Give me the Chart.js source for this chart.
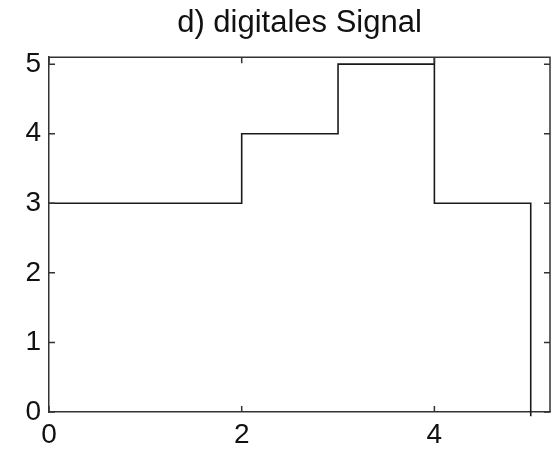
<!DOCTYPE html>
<html>
<head>
<meta charset="utf-8">
<script src="https://cdn.jsdelivr.net/npm/chart.js@4"></script>
<style>
  body { margin: 0; background: #fff; }
  canvas { display: block; }
</style>
</head>
<body>
<canvas id="signalChart" width="556" height="450"></canvas>
<script>
// Digital signal (stairs)
var stepX = [0, 2, 3, 4, 4, 5];
var stepY = [3, 4, 5, 5.1, 3, -0.06];
var xTicks = [0, 2, 4];
var yTicks = [0, 1, 2, 3, 4, 5];
var titleText = "d) digitales Signal";

var axisColor = "#333333";

// MATLAB style box with inward ticks
const boxTicks = {
    id: 'boxTicks',
    afterDatasetsDraw(chart) {
        const ctx = chart.ctx;
        const a = chart.chartArea;
        const xs = chart.scales.x;
        const ys = chart.scales.y;
        const len = 6;
        ctx.save();
        ctx.strokeStyle = axisColor;
        ctx.lineWidth = 1.5;
        ctx.beginPath();
        ctx.moveTo(a.left, a.top);
        ctx.lineTo(a.right, a.top);
        ctx.lineTo(a.right, a.bottom);
        xTicks.forEach(v => {
            const px = xs.getPixelForValue(v);
            ctx.moveTo(px, a.bottom);
            ctx.lineTo(px, a.bottom - len);
            ctx.moveTo(px, a.top);
            ctx.lineTo(px, a.top + len);
        });
        yTicks.forEach(v => {
            const py = ys.getPixelForValue(v);
            ctx.moveTo(a.left, py);
            ctx.lineTo(a.left + len, py);
            ctx.moveTo(a.right, py);
            ctx.lineTo(a.right - len, py);
        });
        ctx.stroke();
        ctx.restore();
    }
};

new Chart("signalChart", {
    type: "line",
    data: {
        datasets: [{
            data: stepX.map((x, i) => ({x: x, y: stepY[i]})),
            stepped: "before",
            borderColor: "#1a1a1a",
            borderWidth: 1.6,
            pointRadius: 0,
            fill: false,
            clip: {left: 0, top: 0, right: 0, bottom: 6}
        }]
    },
    options: {
        responsive: false,
        animation: false,
        layout: {
            padding: {left: 0, right: 6, top: 0, bottom: 0}
        },
        plugins: {
            legend: {display: false},
            tooltip: {enabled: false},
            title: {
                display: true,
                fullSize: false,
                text: titleText,
                color: "#111",
                font: {family: "'Liberation Sans', Arial, sans-serif", size: 31, weight: "normal"},
                padding: {top: 5, bottom: 15}
            }
        },
        scales: {
            x: {
                type: "linear",
                min: 0,
                max: 5.2,
                afterBuildTicks: s => { s.ticks = xTicks.map(v => ({value: v})); },
                afterFit: s => { s.height = 38; },
                grid: {display: false, drawTicks: false},
                border: {display: true, color: axisColor, width: 1.5},
                ticks: {
                    color: "#111",
                    padding: 6,
                    maxRotation: 0,
                    font: {family: "'Liberation Sans', Arial, sans-serif", size: 28}
                }
            },
            y: {
                type: "linear",
                min: 0,
                max: 5.1,
                afterBuildTicks: s => { s.ticks = yTicks.map(v => ({value: v})); },
                afterFit: s => { s.width = 49; },
                grid: {display: false, drawTicks: false},
                border: {display: true, color: axisColor, width: 1.5},
                ticks: {
                    color: "#111",
                    padding: 8,
                    font: {family: "'Liberation Sans', Arial, sans-serif", size: 28}
                }
            }
        }
    },
    plugins: [boxTicks]
});
</script>
</body>
</html>
